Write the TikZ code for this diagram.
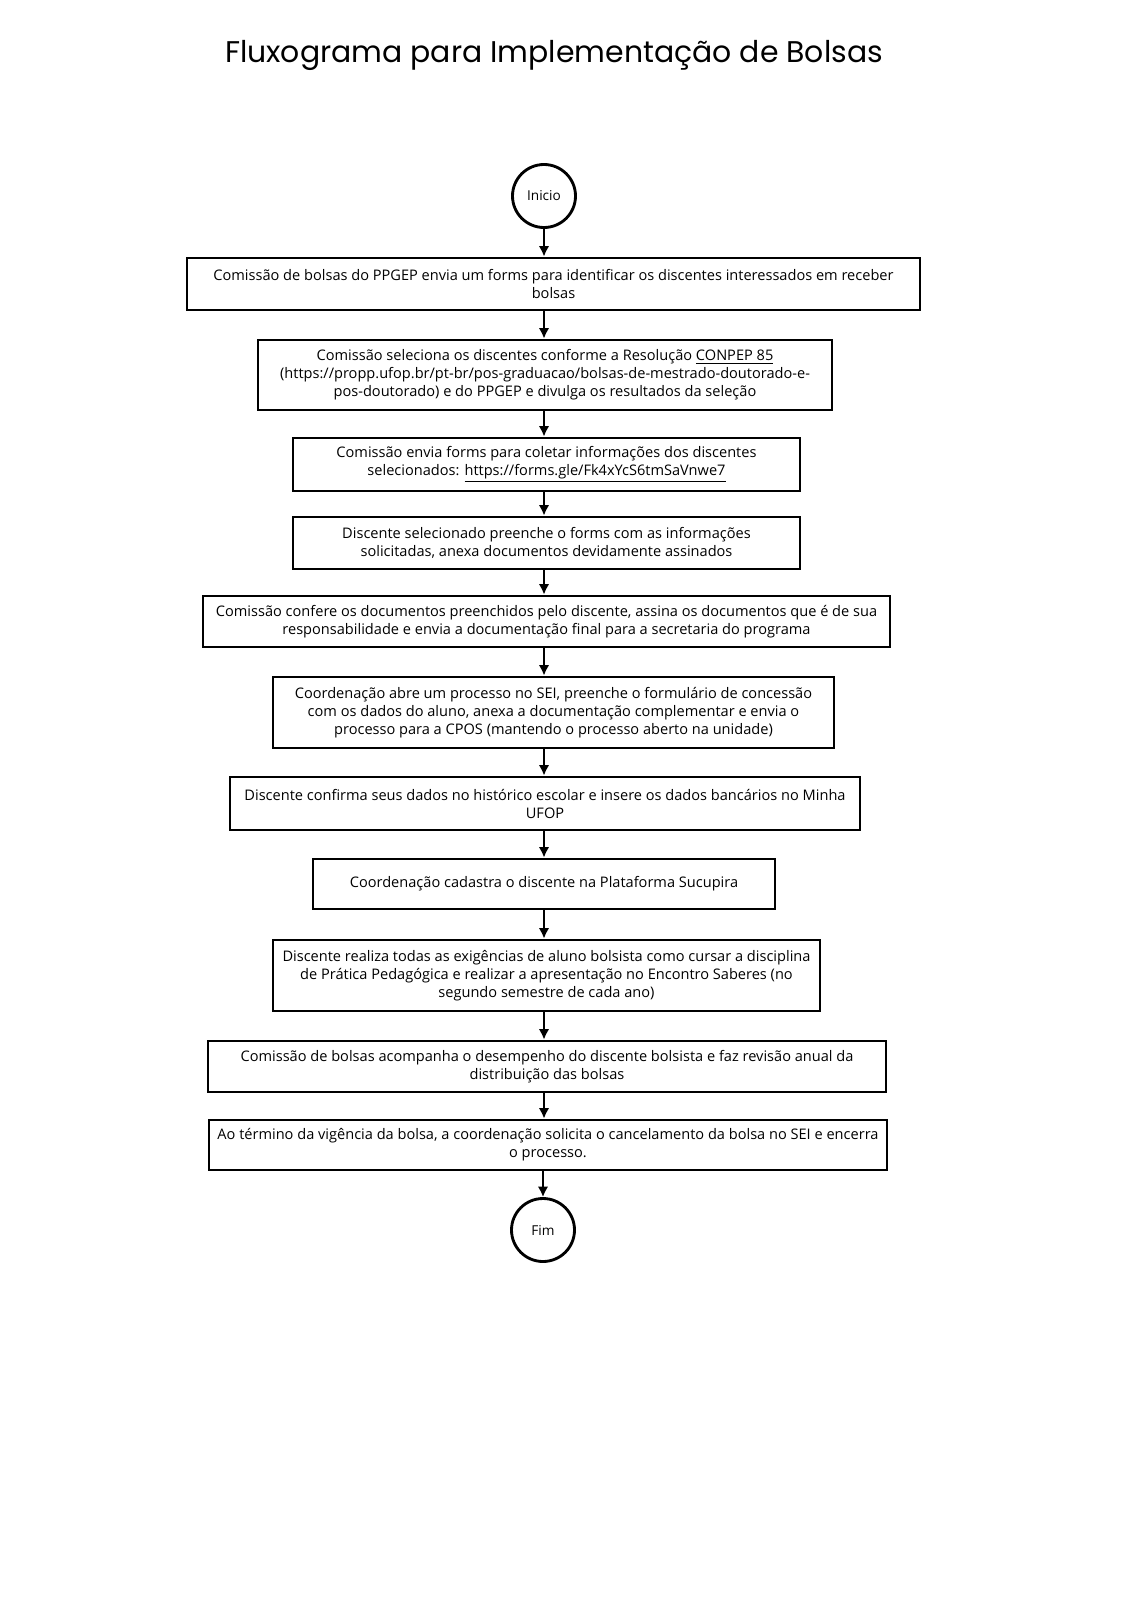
\documentclass[tikz,border=0pt]{standalone}
\usepackage{fontspec}
\setmainfont{Open Sans}
\newfontfamily\titlefont{Poppins}
\usetikzlibrary{arrows.meta}

\def\pxu{0.5283pt}
\tikzset{
  stepbox/.style={draw, line width=1.45pt, align=center, inner sep=0pt,
    font=\fontsize{7.7}{9.5}\selectfont},
  endpoint/.style={draw, circle, line width=1.5pt, minimum size=63*\pxu,
    inner sep=0pt, font=\fontsize{7.2}{9}\selectfont},
  flow/.style={-{Latex[length=5.5pt,width=5.5pt]}, line width=1.3pt}
}

\begin{document}
\begin{tikzpicture}[x=\pxu,y=-\pxu]
  \useasboundingbox (0,0) rectangle (1131,1600);

  %% Title
  \node[font=\titlefont\fontsize{15.8}{18}\selectfont] (title) at (554,55)
    {Fluxograma para Implementação de Bolsas};

  %% Start and end
  \node[endpoint] (ini) at (544,196) {Inicio};
  \node[endpoint] (fim) at (543,1230) {Fim};

  %% Steps of the flow
  \node[stepbox, minimum width=733*\pxu, minimum height=52*\pxu] (B1) at (553.5,284)
    {Comissão de bolsas do PPGEP envia um forms para identificar os discentes interessados em receber\\
     bolsas};
  \node[stepbox, minimum width=574*\pxu, minimum height=70*\pxu] (B2) at (545,375)
    {Comissão seleciona os discentes conforme a Resolução \underline{CONPEP 85}\\
     (https://propp.ufop.br/pt-br/pos-graduacao/bolsas-de-mestrado-doutorado-e-\\
     pos-doutorado) e do PPGEP e divulga os resultados da seleção};
  \node[stepbox, minimum width=507*\pxu, minimum height=53*\pxu] (B3) at (546.5,464.5)
    {Comissão envia forms para coletar informações dos discentes\\
     selecionados: \underline{https://forms.gle/Fk4xYcS6tmSaVnwe7}};
  \node[stepbox, minimum width=507*\pxu, minimum height=52*\pxu] (B4) at (546.5,543)
    {Discente selecionado preenche o forms com as informações\\
     solicitadas, anexa documentos devidamente assinados};
  \node[stepbox, minimum width=687*\pxu, minimum height=51*\pxu] (B5) at (546.5,621.5)
    {Comissão confere os documentos preenchidos pelo discente, assina os documentos que é de sua\\
     responsabilidade e envia a documentação final para a secretaria do programa};
  \node[stepbox, minimum width=561*\pxu, minimum height=71*\pxu] (B6) at (553.5,712.5)
    {Coordenação abre um processo no SEI, preenche o formulário de concessão\\
     com os dados do aluno, anexa a documentação complementar e envia o\\
     processo para a CPOS (mantendo o processo aberto na unidade)};
  \node[stepbox, minimum width=630*\pxu, minimum height=53*\pxu] (B7) at (545,803.5)
    {Discente confirma seus dados no histórico escolar e insere os dados bancários no Minha\\
     UFOP};
  \node[stepbox, minimum width=462*\pxu, minimum height=50*\pxu] (B8) at (544,884)
    {Coordenação cadastra o discente na Plataforma Sucupira};
  \node[stepbox, minimum width=547*\pxu, minimum height=71*\pxu] (B9) at (546.5,975.5)
    {Discente realiza todas as exigências de aluno bolsista como cursar a disciplina\\
     de Prática Pedagógica e realizar a apresentação no Encontro Saberes (no\\
     segundo semestre de cada ano)};
  \node[stepbox, minimum width=678*\pxu, minimum height=51*\pxu] (B10) at (547,1066.5)
    {Comissão de bolsas acompanha o desempenho do discente bolsista e faz revisão anual da\\
     distribuição das bolsas};
  \node[stepbox, minimum width=678*\pxu, minimum height=50*\pxu] (B11) at (548,1145)
    {Ao término da vigência da bolsa, a coordenação solicita o cancelamento da bolsa no SEI e encerra\\
     o processo.};

  %% Arrows between the steps
  \draw[flow] (ini) -- (B1.north -| ini);
  \foreach \a/\b in {B1/B2,B2/B3,B3/B4,B4/B5,B5/B6,B6/B7,B7/B8,B8/B9,B9/B10,B10/B11}
  {
    \draw[flow] (\a.south -| ini) -- (\b.north -| ini);
  }
  \draw[flow] (B11.south -| fim) -- (fim);

\end{tikzpicture}
\end{document}
